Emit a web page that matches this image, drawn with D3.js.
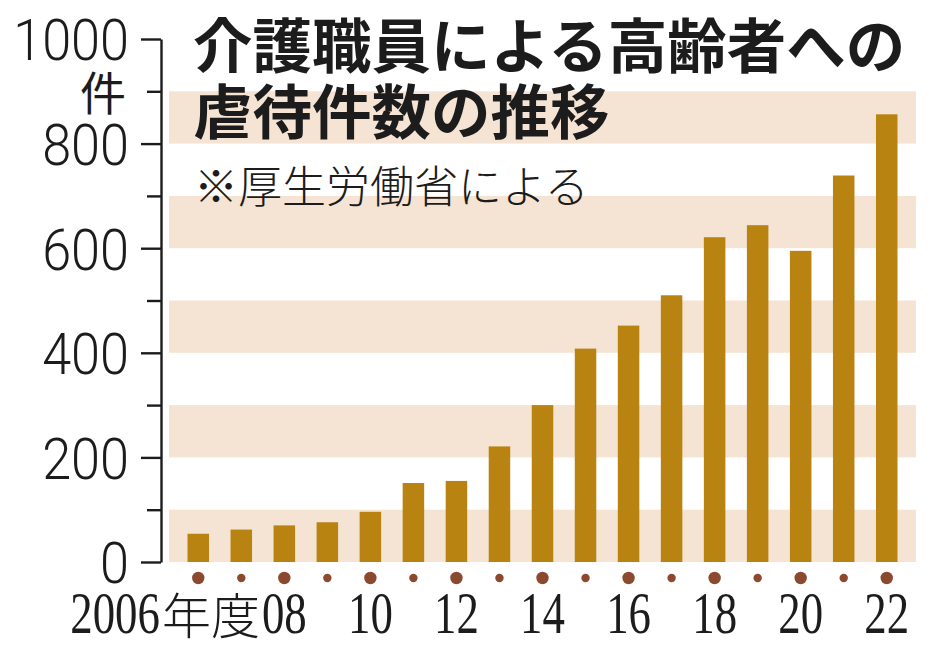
<!DOCTYPE html>
<html><head><meta charset="utf-8">
<script src="https://cdn.jsdelivr.net/npm/d3@7"></script>
<style>body{margin:0;background:#fff}svg{display:block}</style>
</head><body>
<svg id="c" width="934" height="654"></svg>
<script>
// ---- data ----
const years = [2006,2007,2008,2009,2010,2011,2012,2013,2014,2015,2016,2017,2018,2019,2020,2021,2022];
const values = [54,62,70,76,96,151,155,221,300,408,452,510,621,644,595,739,856];
const yTicksMajor = [0,200,400,600,800,1000];
const yTicksMinor = [100,300,500,700,900];
const bandStarts = [0,200,400,600,800];
const labelYears = [2008,2010,2012,2014,2016,2018,2020,2022];
const labelTexts = ["08","10","12","14","16","18","20","22"];
const firstPrefixNum = "2006";
const firstPrefixUnit = "年度";
const titleLines = ["介護職員による高齢者への","虐待件数の推移"];
const subtitle = "※厚生労働省による";
const unitLabel = "件";

// ---- styles ----
const barColor = "#b98312";
const bandColor = "#f5e4d3";
const dotColor = "#8b4a30";
const ink = "#1c1c1c";

const svg = d3.select("#c");
const x = d3.scaleBand().domain(years).range([169, 916]).paddingInner(0.5).paddingOuter(0.43);
const y = d3.scaleLinear().domain([0, 1000]).range([562, 39]);

// bands
svg.append("g").selectAll("rect").data(bandStarts).join("rect")
  .attr("x", 169).attr("width", 747)
  .attr("y", d => y(d + 100)).attr("height", d => y(d) - y(d + 100))
  .attr("fill", bandColor);

// bars
svg.append("g").selectAll("rect").data(years).join("rect")
  .attr("x", d => x(d)).attr("width", x.bandwidth())
  .attr("y", (d, i) => y(values[i])).attr("height", (d, i) => y(0) - y(values[i]))
  .attr("fill", barColor);

// dots
svg.append("g").selectAll("circle").data(years).join("circle")
  .attr("cx", d => x(d) + x.bandwidth() / 2).attr("cy", 578)
  .attr("r", d => d % 2 === 0 ? 6.2 : 4.2)
  .attr("fill", dotColor);

// y axis
const axX = 161;
const major = svg.append("g").attr("transform", `translate(${axX},0)`)
  .call(d3.axisLeft(y).tickValues(yTicksMajor).tickSize(20).tickSizeOuter(0).tickPadding(11).tickFormat(d3.format("d")));
major.select(".domain").attr("stroke", ink).attr("stroke-width", 2.4);
major.selectAll(".tick line").attr("stroke", ink).attr("stroke-width", 2.4);
const sx = 0.9;
major.selectAll(".tick text")
  .attr("font-family", "Roboto, 'Liberation Sans', sans-serif")
  .attr("font-weight", 300)
  .attr("font-size", 58)
  .attr("fill", ink)
  .attr("x", -32 / sx)
  .attr("dy", "0.36em")
  .attr("transform", `scale(${sx},1)`);
const minor = svg.append("g").attr("transform", `translate(${axX},0)`)
  .call(d3.axisLeft(y).tickValues(yTicksMinor).tickSize(14).tickSizeOuter(0).tickFormat(""));
minor.select(".domain").remove();
minor.selectAll(".tick line").attr("stroke", ink).attr("stroke-width", 2.4);

// unit
svg.append("text").attr("x", 126).attr("y", 110)
  .attr("text-anchor", "end")
  .attr("font-family", "'Noto Sans CJK JP', sans-serif")
  .attr("font-size", 46).attr("fill", ink).text(unitLabel);

// title
svg.append("g").selectAll("text").data(titleLines).join("text")
  .attr("x", 193).attr("y", (d, i) => 68 + i * 66)
  .attr("font-family", "'Noto Sans CJK JP', sans-serif")
  .attr("font-weight", 700).attr("font-size", 59.5)
  .attr("fill", ink).text(d => d);

svg.append("text").attr("x", 194).attr("y", 203)
  .attr("font-family", "'Noto Sans CJK JP', sans-serif")
  .attr("font-weight", 300).attr("font-size", 44)
  .attr("fill", ink).text(subtitle);

// x labels
const xs = 0.76;
const serif = "'Liberation Serif', 'DejaVu Serif', serif";
const base = 633;
labelYears.forEach((yr, i) => {
  const cx = x(yr) + x.bandwidth() / 2;
  const g = svg.append("g").attr("transform", `translate(${cx},${base})`);
  const t = g.append("text").attr("text-anchor", "middle")
    .attr("transform", `scale(${xs},1)`)
    .attr("font-family", serif).attr("font-size", 59).attr("fill", ink)
    .text(labelTexts[i]);
  if (i === 0) {
    const w = t.node().getComputedTextLength() * xs;
    const u = g.append("text").attr("text-anchor", "end").attr("x", -w / 2 - 2)
      .attr("y", 1)
      .attr("font-family", "'Noto Sans CJK JP', sans-serif").attr("font-weight", 300)
      .attr("font-size", 49).attr("fill", ink).text(firstPrefixUnit);
    const wu = u.node().getComputedTextLength();
    g.append("text").attr("text-anchor", "end")
      .attr("x", (-w / 2 - 2 - wu - 2) / xs)
      .attr("transform", `scale(${xs},1)`)
      .attr("font-family", serif).attr("font-size", 59).attr("fill", ink)
      .text(firstPrefixNum);
  }
});
</script>
</body></html>
